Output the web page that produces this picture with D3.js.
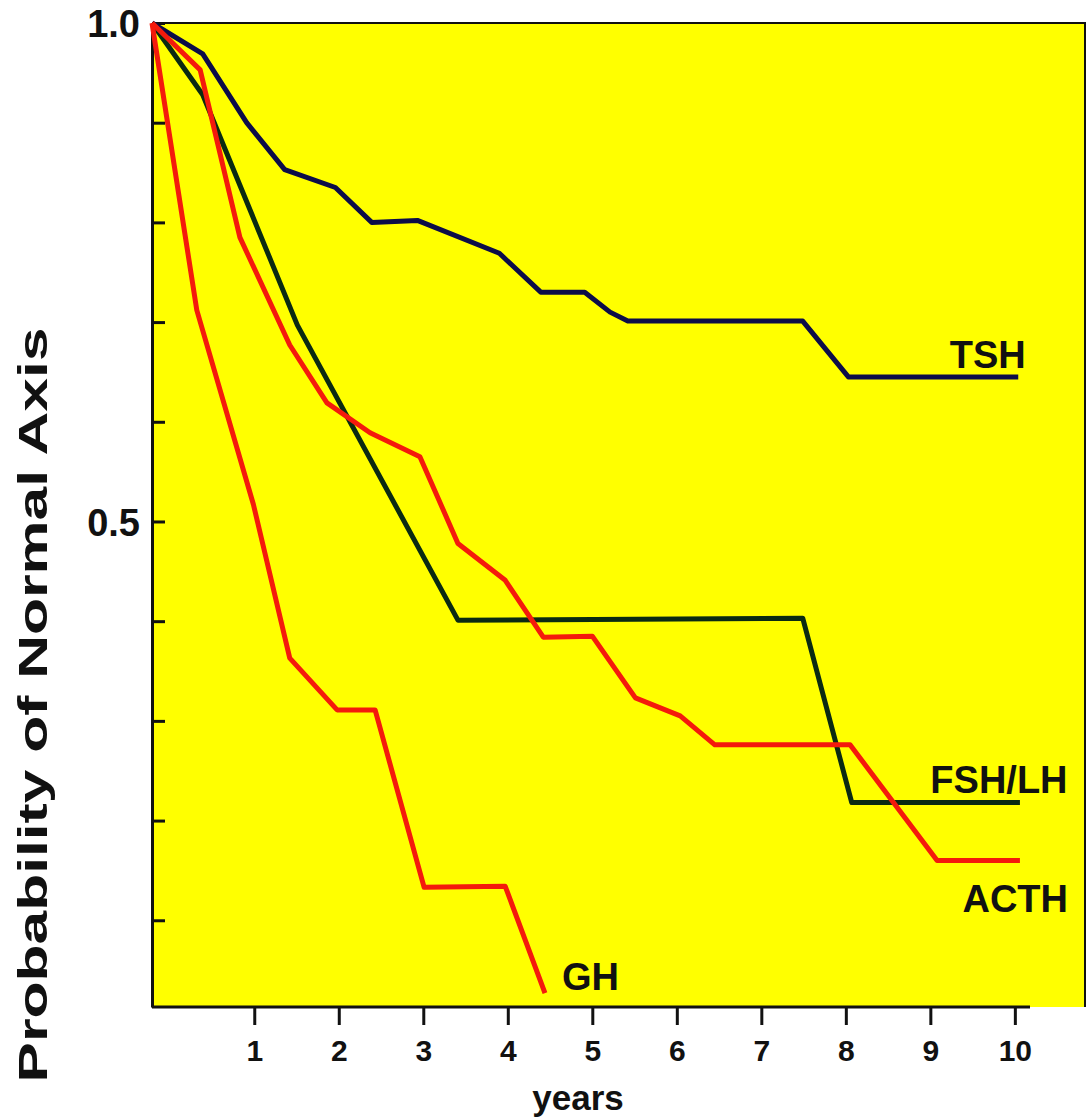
<!DOCTYPE html>
<html>
<head>
<meta charset="utf-8">
<script src="https://cdn.jsdelivr.net/npm/d3@7"></script>
<style>
  body { margin: 0; background: #fff; }
  svg text { font-family: "Liberation Sans", Arial, sans-serif; font-weight: bold; fill: #111; }
</style>
</head>
<body>
<div id="chart"></div>
<script>
// valeurs (annees, probabilite)
var tshYears  = [-0.21, 0.39, 0.91, 1.36, 1.96, 2.39, 2.93, 3.90, 4.39, 4.91, 5.21, 5.42, 7.49, 8.03, 10.04];
var tshProb   = [1.0, 0.969, 0.900, 0.853, 0.835, 0.800, 0.802, 0.769, 0.730, 0.730, 0.710, 0.701, 0.701, 0.645, 0.645];

var fshYears  = [-0.21, 0.39, 1.51, 3.41, 7.49, 8.07, 10.06];
var fshProb   = [1.0, 0.928, 0.697, 0.401, 0.403, 0.218, 0.218];

var acthYears = [-0.21, 0.36, 0.83, 1.42, 1.86, 2.37, 2.96, 3.41, 3.97, 4.42, 5.0, 5.51, 6.04, 6.45, 8.05, 9.08, 10.06];
var acthProb  = [1.0, 0.953, 0.785, 0.677, 0.619, 0.589, 0.565, 0.478, 0.441, 0.384, 0.385, 0.323, 0.305, 0.276, 0.276, 0.160, 0.160];

var ghYears   = [-0.21, 0.32, 0.99, 1.42, 1.98, 2.43, 3.01, 3.97, 4.44];
var ghProb    = [1.0, 0.712, 0.517, 0.363, 0.311, 0.311, 0.133, 0.134, 0.027];

var xTicks = [1, 2, 3, 4, 5, 6, 7, 8, 9, 10];
var yTicks = [0.1, 0.2, 0.3, 0.4, 0.5, 0.6, 0.7, 0.8, 0.9, 1.0];
var yLabels = {"1.0": "1.0", "0.5": "0.5"};

var series = [
  {name: "TSH",    years: tshYears,  prob: tshProb,  color: "#0c0c48"},
  {name: "FSH/LH", years: fshYears,  prob: fshProb,  color: "#0a2a12"},
  {name: "ACTH",   years: acthYears, prob: acthProb, color: "#f41a0c"},
  {name: "GH",     years: ghYears,   prob: ghProb,   color: "#f41a0c"}
];

var W = 1089, H = 1120;
var FONT = "'Liberation Sans', Arial, sans-serif";

var svg = d3.select("#chart")
  .append("svg")
    .attr("width", W)
    .attr("height", H);

// echelles
var x = d3.scaleLinear().domain([-0.21, 10.83]).range([152, 1085]);
var y = d3.scaleLinear().domain([0.013, 1]).range([1007, 23]);

// fond jaune
svg.append("rect")
  .attr("x", x(-0.21)).attr("y", y(1))
  .attr("width", x(10.83) - x(-0.21))
  .attr("height", y(0.013) - y(1))
  .attr("fill", "#ffff00");

// bord haut et droit (fins)
svg.append("path")
  .attr("d", "M" + x(-0.21) + "," + y(1) + "H" + x(10.83) + "V" + y(0.013))
  .attr("fill", "none")
  .attr("stroke", "#111")
  .attr("stroke-width", 2);

// Axe Y
var yAxis = svg.append("g")
  .attr("transform", "translate(" + x(-0.21) + ",0)")
  .call(d3.axisLeft(y)
    .tickValues(yTicks)
    .tickSizeInner(-13)
    .tickSizeOuter(0)
    .tickPadding(12)
    .tickFormat(function(d) { return yLabels[d.toFixed(1)] || ""; }));
yAxis.attr("font-family", FONT);
yAxis.select(".domain").attr("stroke", "#111").attr("stroke-width", 3);
yAxis.selectAll(".tick line").attr("stroke", "#111").attr("stroke-width", 3);
yAxis.selectAll(".tick text")
  .style("font-family", FONT)
  .style("font-size", "38px")
  .attr("dy", "0.36em");

// Axe X
var xAxis = svg.append("g")
  .attr("transform", "translate(0," + y(0.013) + ")")
  .call(d3.axisBottom(x)
    .tickValues(xTicks)
    .tickSize(18)
    .tickPadding(15));
xAxis.attr("font-family", FONT);
xAxis.select(".domain").remove();
xAxis.append("line")
  .attr("x1", x(-0.21)).attr("x2", 1030)
  .attr("stroke", "#111").attr("stroke-width", 3);
xAxis.selectAll(".tick line").attr("stroke", "#111").attr("stroke-width", 3);
xAxis.selectAll(".tick text")
  .style("font-family", FONT)
  .style("font-size", "30px");

// courbes
var line = d3.line()
  .x(function(d) { return x(d[0]); })
  .y(function(d) { return y(d[1]); });

svg.append("g")
  .selectAll("path")
  .data(series)
  .enter()
  .append("path")
    .attr("d", function(s) { return line(d3.zip(s.years, s.prob)); })
    .attr("fill", "none")
    .attr("stroke", function(s) { return s.color; })
    .attr("stroke-width", 5)
    .attr("stroke-linejoin", "round");

// etiquettes des courbes
var labelPos = {"TSH": [9.23, 0.654], "FSH/LH": [9.0, 0.228], "ACTH": [9.38, 0.108], "GH": [4.64, 0.030]};
svg.append("g")
  .selectAll("text")
  .data(series)
  .enter()
  .append("text")
    .attr("x", function(s) { return x(labelPos[s.name][0]); })
    .attr("y", function(s) { return y(labelPos[s.name][1]); })
    .style("font-size", "38px")
    .text(function(s) { return s.name; });

// titres des axes
svg.append("text")
  .attr("x", 578).attr("y", 1110)
  .attr("text-anchor", "middle")
  .style("font-size", "35px")
  .text("years");

svg.append("text")
  .attr("transform", "translate(47,705) rotate(-90)")
  .attr("text-anchor", "middle")
  .attr("textLength", 755)
  .attr("lengthAdjust", "spacingAndGlyphs")
  .style("font-size", "40px")
  .text("Probability of Normal Axis");
</script>
</body>
</html>
